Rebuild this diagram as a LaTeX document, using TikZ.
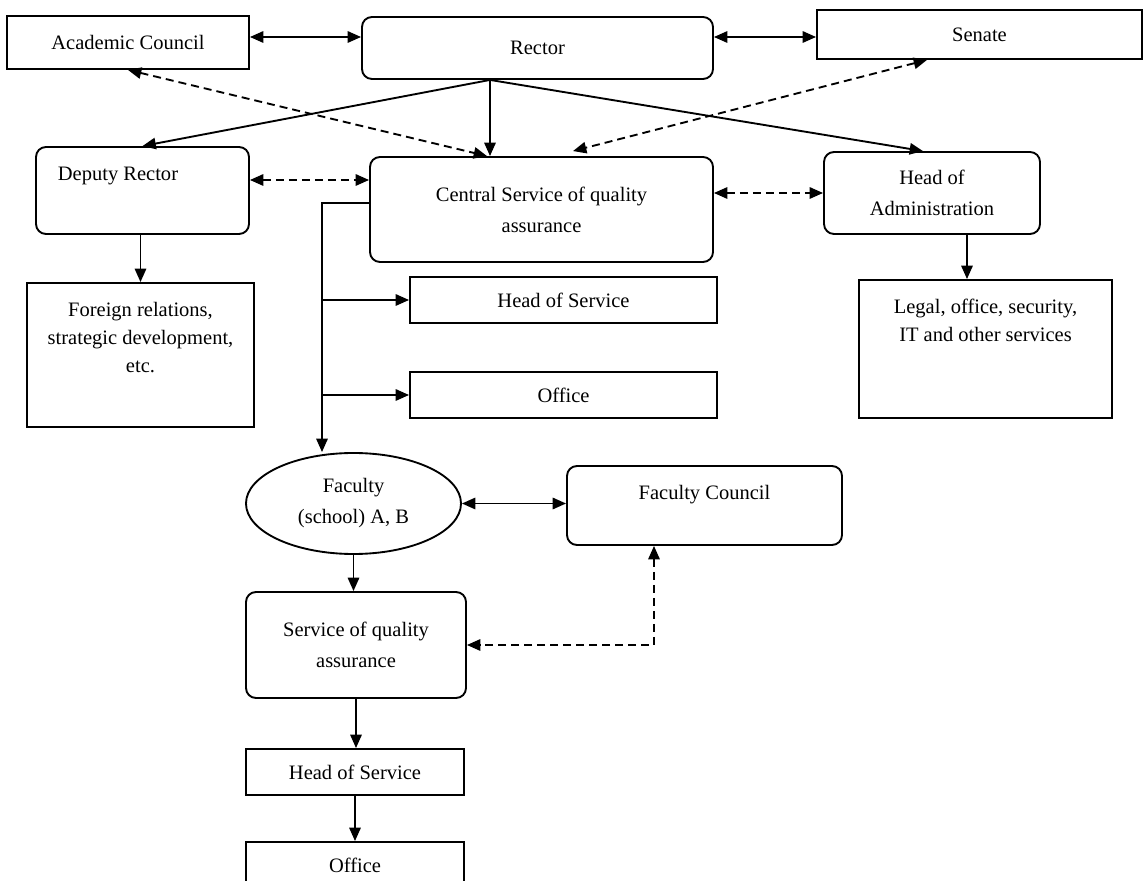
\documentclass[tikz,border=0pt]{standalone}
\usepackage{fontspec}
\setmainfont{Liberation Serif}
\usetikzlibrary{arrows.meta,shapes.geometric}

\begin{document}
\begin{tikzpicture}[x=0.03cm,y=-0.03cm,line width=1.6pt,
  font=\fontsize{17.5}{24}\selectfont,
  >={Triangle[length=0.4cm,width=0.34cm]},
  box/.style={draw,rectangle,inner sep=0pt,align=center},
  rbox/.style={box,rounded corners=0.3cm},
  loose/.style={font=\fontsize{17.5}{26.5}\selectfont},
  dsh/.style={dash pattern=on 0.24cm off 0.15cm}]
\useasboundingbox (0,0) rectangle (1143,881);
\node[box,minimum width=7.26cm,minimum height=1.59cm] (acad) at (128,42.5) {Academic Council};
\node[rbox,minimum width=10.53cm,minimum height=1.86cm] (rector) at (537.5,48) {Rector};
\node[box,minimum width=9.75cm,minimum height=1.47cm] (senate) at (979.5,34.5) {Senate};
\node[rbox,minimum width=6.39cm,minimum height=2.61cm,
  label={[xshift=-0.735cm,yshift=0.435cm]center:Deputy Rector}] (deputy) at (142.5,190.5) {};
\node[rbox,loose,minimum width=10.29cm,minimum height=3.15cm] (central) at (541.5,209.5) {Central Service of quality\\assurance};
\node[rbox,loose,minimum width=6.48cm,minimum height=2.46cm] (admin) at (932,193) {Head of\\Administration};
\node[box,minimum width=6.81cm,minimum height=4.32cm,
  label={[align=center,yshift=0.525cm]center:{Foreign relations,\\strategic development,\\etc.}}] (foreign) at (140.5,355) {};
\node[box,minimum width=7.59cm,minimum height=4.14cm,
  label={[align=center,yshift=0.87cm]center:{Legal, office, security,\\IT and other services}}] (legal) at (985.5,349) {};
\node[box,minimum width=9.21cm,minimum height=1.38cm] (hos) at (563.5,300) {Head of Service};
\node[box,minimum width=9.21cm,minimum height=1.38cm] (office) at (563.5,395) {Office};
% begin faculty
\node[draw,ellipse,loose,inner sep=0pt,align=center,minimum width=6.45cm,minimum height=3.03cm] (faculty) at (353.5,503.5) {Faculty\\(school) A, B};
\node[rbox,minimum width=8.25cm,minimum height=2.37cm,
  label={[yshift=0.315cm]center:Faculty Council}] (fcouncil) at (704.5,505.5) {};
\node[rbox,loose,minimum width=6.6cm,minimum height=3.18cm] (sqa) at (356,645) {Service of quality\\assurance};
\node[box,minimum width=6.54cm,minimum height=1.38cm] (fhos) at (355,772) {Head of Service};
\node[box,minimum width=6.54cm,minimum height=1.38cm] (foffice) at (355,865) {Office};
% rector links
\coordinate (lvl) at (0,37);
\draw[<->] (acad.east |- lvl) -- (rector.west |- lvl);
\draw[<->] (rector.east |- lvl) -- (senate.west |- lvl);
\coordinate (r) at ([xshift=-1.425cm]rector.south);
\draw[->] (r) -- (deputy.north);
\draw[->] (r) -- (r |- central.north);
\draw[->] (r) -- ([xshift=-0.27cm]admin.north);
\draw[<->,dsh] (acad.south) -- ([xshift=-0.09cm]r |- central.north);
\draw[<->,dsh] ([xshift=-1.575cm]senate.south) -- ([xshift=0.945cm,yshift=0.15cm]central.north);
\draw[<->,dsh] ([yshift=0.315cm]deputy.east) -- ([yshift=0.315cm]deputy.east -| central.west);
\draw[<->,dsh] (admin.west -| central.east) -- (admin.west);
\draw[->] (foreign.north |- deputy.south) -- (foreign.north);
\draw[->] ([xshift=-0.555cm]legal.north |- admin.south) -- ([xshift=-0.555cm]legal.north);
% begin trunk
\coordinate (tr) at (322,203);
\draw[->] ([yshift=0.195cm]central.west) -| (tr |- faculty.north);
\draw[->] (hos.west -| tr) -- (hos.west);
\draw[->] (office.west -| tr) -- (office.west);
\draw[<->] (faculty.east) -- (faculty.east -| fcouncil.west);
\draw[->] (faculty.south) -- (faculty.south |- sqa.north);
\draw[<->,dsh] ([xshift=-1.515cm]fcouncil.south) |- (sqa.east);
\draw[->] (sqa.south) -- (sqa.south |- fhos.north);
\draw[->] (fhos.south) -- (fhos.south |- foffice.north);
\end{tikzpicture}
\end{document}
